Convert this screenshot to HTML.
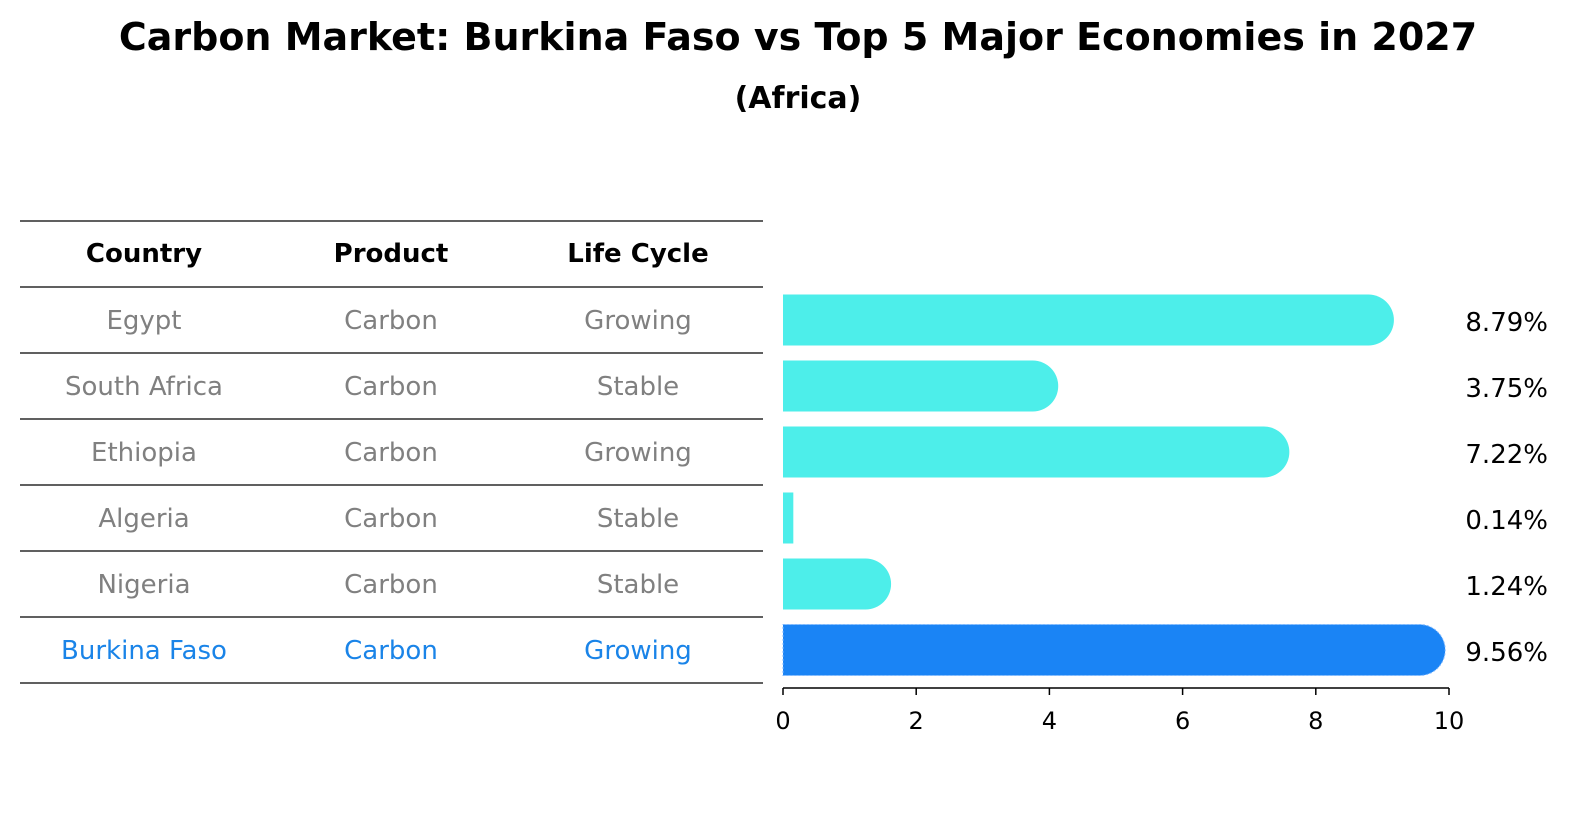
<!DOCTYPE html>
<html><head><meta charset="utf-8"><style>
html,body{margin:0;padding:0;background:#fff;overflow:hidden;width:1586px;height:823px;font-family:"Liberation Sans","DejaVu Sans",sans-serif;}
svg{display:block;}
svg text{font-family:"DejaVu Sans","Liberation Sans",sans-serif;}
</style></head><body>
<svg width="1586" height="823" viewBox="0 0 1586 823">
<text x="798" y="50" text-anchor="middle" font-size="38" font-weight="bold">Carbon Market: Burkina Faso vs Top 5 Major Economies in 2027</text>
<text x="798" y="108" text-anchor="middle" font-size="30" font-weight="bold">(Africa)</text>
<g id="table"></g>
<g id="bars"></g>
<g id="axis"></g>
</svg>
<script>
const countries=["Egypt","South Africa","Ethiopia","Algeria","Nigeria","Burkina Faso"];
const products=["Carbon","Carbon","Carbon","Carbon","Carbon","Carbon"];
const lifeCycles=["Growing","Stable","Growing","Stable","Stable","Growing"];
const values=[8.79,3.75,7.22,0.14,1.24,9.56];
const ticks=[0,2,4,6,8,10];
const NS="http://www.w3.org/2000/svg";
function mk(tag,attrs,parent){const e=document.createElementNS(NS,tag);for(const k in attrs)e.setAttribute(k,attrs[k]);parent.appendChild(e);return e;}
const x0=783,x1=1449,xmax=10;
const xs=v=>x0+(x1-x0)*v/xmax;
const rowTop=287,rowH=66;
const ys=i=>rowTop+rowH*i+rowH/2;
const table=document.getElementById('table');
const cols=[144,391,638];
const heads=["Country","Product","Life Cycle"];
for(let c=0;c<3;c++){const t=mk('text',{x:cols[c],y:262,'text-anchor':'middle','font-size':26,'font-weight':'bold'},table);t.textContent=heads[c];

}
const hl=mk('line',{x1:20,x2:763,y1:221,y2:221,stroke:'#000','stroke-width':1.2},table);


for(let i=0;i<=countries.length;i++){const l=mk('line',{x1:20,x2:763,y1:rowTop+rowH*i,y2:rowTop+rowH*i,stroke:'#000','stroke-width':1.2},table);

}
for(let i=0;i<countries.length;i++){
 const col=i===countries.length-1?'#1a84e8':'#808080';
 const row=[countries[i],products[i],lifeCycles[i]];
 for(let c=0;c<3;c++){const t=mk('text',{x:cols[c],y:ys(i)+9,'text-anchor':'middle','font-size':26,fill:col},table);t.textContent=row[c];
 
 }
}
const bars=document.getElementById('bars');
const bh=51,r=25.5;
for(let i=0;i<values.length;i++){
 const last=i===values.length-1;
 const col=last?'#1a84f5':'#4deeea';
 const w=xs(values[i])-x0;
 const y=ys(i)-bh/2;
 let d;
 if(w>r){const e=x0+w;d=`M${x0},${y}H${e}A${r},${r} 0 0 1 ${e},${y+bh}H${x0}Z`;}
 else{d=`M${x0},${y}H${x0+w+1}V${y+bh}H${x0}Z`;}
 const p=mk('path',{d:d,fill:col},bars);
 if(last){p.setAttribute('stroke','#7fb8ff');p.setAttribute('stroke-dasharray','2 2');p.setAttribute('stroke-width','1');}
 
 
 const t=mk('text',{x:1548,y:ys(i)+11,'text-anchor':'end','font-size':26},bars);t.textContent=values[i].toFixed(2)+'%';
 
 
}
const axis=document.getElementById('axis');
const al=mk('line',{x1:x0,x2:x1,y1:688,y2:688,stroke:'#000','stroke-width':1.5},axis);


ticks.forEach(v=>{const l=mk('line',{x1:xs(v),x2:xs(v),y1:688,y2:695,stroke:'#000','stroke-width':1.5},axis);
 
 
 const t=mk('text',{x:xs(v),y:729,'text-anchor':'middle','font-size':24},axis);t.textContent=v;
 
 });
</script>
</body></html>
